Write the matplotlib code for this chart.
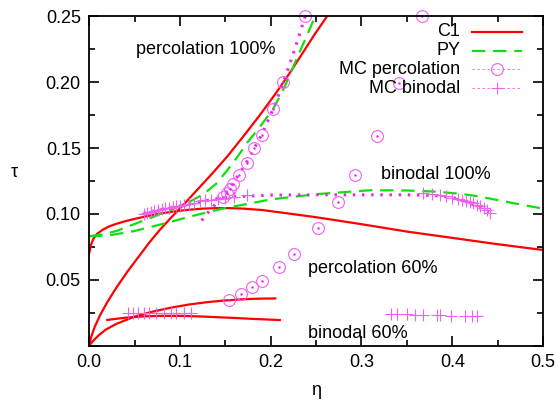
import matplotlib
matplotlib.use("Agg")
import matplotlib.pyplot as plt
from matplotlib.ticker import MultipleLocator, FormatStrFormatter
from matplotlib.lines import Line2D

plt.rcParams['font.family'] = ['Liberation Sans', 'DejaVu Sans']

RED = '#ff0000'
GREEN = '#11dd11'
MAG = '#f020f0'
MAG_LIGHT = '#f060f0'

# C1 closure: binodal at 100%
c1_bin100_eta = [0.0, 0.002, 0.005, 0.009, 0.015, 0.022, 0.03, 0.04, 0.05, 0.065, 0.08, 0.095,
                 0.11, 0.125, 0.14, 0.155, 0.17, 0.19, 0.21, 0.25, 0.3, 0.35, 0.4, 0.45, 0.5]
c1_bin100_tau = [0.070, 0.0765, 0.0815, 0.0850, 0.0880, 0.0905, 0.0925, 0.0945, 0.0962, 0.0985, 0.1005, 0.1020,
                 0.1032, 0.1040, 0.1044, 0.1044, 0.1040, 0.1030, 0.1012, 0.0975, 0.0922, 0.0866, 0.0818, 0.0770, 0.0726]

# C1 closure: percolation at 100%
c1_perc100_eta = [0.0, 0.002, 0.006, 0.012, 0.02, 0.03, 0.042, 0.054, 0.066, 0.078, 0.09, 0.104,
                  0.12, 0.136, 0.152, 0.17, 0.188, 0.205, 0.22, 0.235, 0.249, 0.262]
c1_perc100_tau = [0.0, 0.006, 0.014, 0.023, 0.033, 0.044, 0.056, 0.067, 0.078, 0.088, 0.097, 0.107,
                  0.119, 0.131, 0.1435, 0.159, 0.175, 0.191, 0.206, 0.222, 0.237, 0.25]

# C1 closure: percolation at 60%
c1_perc60_eta = [0.0, 0.005, 0.01, 0.018, 0.03, 0.05, 0.07, 0.09, 0.11, 0.13, 0.15, 0.17, 0.19, 0.205]
c1_perc60_tau = [0.0, 0.004, 0.0075, 0.012, 0.0165, 0.022, 0.0258, 0.0288, 0.0312, 0.033, 0.0343, 0.0352,
                 0.0357, 0.0358]

# C1 closure: binodal at 60%
c1_bin60_eta = [0.02, 0.04, 0.06, 0.08, 0.1, 0.12, 0.14, 0.16, 0.18, 0.2, 0.21]
c1_bin60_tau = [0.0195, 0.0212, 0.0222, 0.0226, 0.0226, 0.0222, 0.0216, 0.0210, 0.0203, 0.0197, 0.0194]

# PY closure: binodal
py_bin_eta = [0.0, 0.02, 0.05, 0.07, 0.09, 0.11, 0.13, 0.15, 0.17, 0.2, 0.25, 0.31, 0.35, 0.38,
              0.41, 0.43, 0.45, 0.47, 0.5]
py_bin_tau = [0.083, 0.0835, 0.087, 0.0905, 0.094, 0.0978, 0.1012, 0.1045, 0.107, 0.111, 0.115, 0.118,
              0.1178, 0.117, 0.1152, 0.1132, 0.1105, 0.1078, 0.104]

# PY closure: percolation
py_perc_eta = [0.0, 0.015, 0.03, 0.045, 0.06, 0.075, 0.09, 0.11, 0.126, 0.14, 0.152, 0.163, 0.174,
               0.188, 0.203, 0.215, 0.225, 0.237, 0.249]
py_perc_tau = [0.083, 0.0845, 0.087, 0.091, 0.095, 0.099, 0.103, 0.109, 0.115, 0.123, 0.133, 0.143, 0.154,
               0.166, 0.18, 0.196, 0.212, 0.231, 0.25]

# MC percolation points
mc_perc100_eta = [0.148, 0.152, 0.155, 0.159, 0.165, 0.174, 0.182, 0.190, 0.203, 0.214, 0.238]
mc_perc100_tau = [0.113, 0.116, 0.119, 0.123, 0.1296, 0.139, 0.150, 0.160, 0.180, 0.2005, 0.25]
mc_perc60_eta = [0.1546, 0.167, 0.1795, 0.1905, 0.209, 0.2258, 0.2522, 0.274, 0.293, 0.3168, 0.3414, 0.367]
mc_perc60_tau = [0.0346, 0.039, 0.0442, 0.0493, 0.0594, 0.0695, 0.0896, 0.109, 0.1296, 0.1594, 0.1997, 0.25]

# MC binodal points
mc_bin100_eta = [0.060, 0.064, 0.068, 0.072, 0.076, 0.080, 0.084, 0.088, 0.092, 0.096, 0.100, 0.105,
                 0.110, 0.116, 0.122, 0.128, 0.134, 0.142, 0.150, 0.160, 0.174,
                 0.368, 0.378, 0.386, 0.393, 0.400, 0.406, 0.411, 0.415, 0.419, 0.423, 0.427,
                 0.431, 0.435, 0.438, 0.441]
mc_bin100_tau = [0.1000, 0.1008, 0.1015, 0.1022, 0.1030, 0.1036, 0.1042, 0.1048, 0.1053, 0.1058, 0.1063, 0.1068,
                 0.1078, 0.1085, 0.1095, 0.1102, 0.1108, 0.1115, 0.1120, 0.1128, 0.1140,
                 0.1157, 0.1150, 0.1142, 0.1133, 0.1124, 0.1115, 0.1107, 0.1098, 0.1090, 0.1080, 0.1070,
                 0.1058, 0.1046, 0.1030, 0.1010]
mc_bin60_eta = [0.043, 0.048, 0.054, 0.060, 0.066, 0.074, 0.082, 0.090, 0.096, 0.104, 0.112,
                0.333, 0.339, 0.350, 0.359, 0.368, 0.383, 0.387, 0.399, 0.414, 0.4215, 0.427]
mc_bin60_tau = [0.0245, 0.0245, 0.0244, 0.0246, 0.0245, 0.0244, 0.0245, 0.0244, 0.0245, 0.0244, 0.0245,
                0.0240, 0.0238, 0.0238, 0.0236, 0.0236, 0.0232, 0.0230, 0.0228, 0.0226, 0.0222, 0.0222]

# fitted MC curves (thick dotted)
fit_perc_eta = [0.124, 0.132, 0.14, 0.148, 0.155, 0.165, 0.174, 0.182, 0.19, 0.203, 0.214, 0.225, 0.238]
fit_perc_tau = [0.095, 0.102, 0.108, 0.114, 0.12, 0.13, 0.14, 0.15, 0.16, 0.18, 0.2, 0.222, 0.25]
fit_bin_eta = [0.06, 0.08, 0.1, 0.12, 0.14, 0.16, 0.2, 0.25, 0.3, 0.35, 0.38, 0.4, 0.42, 0.44]
fit_bin_tau = [0.1005, 0.1035, 0.106, 0.109, 0.1115, 0.113, 0.1143, 0.1145, 0.1145, 0.1145, 0.114,
               0.1125, 0.1085, 0.101]

fig = plt.figure(figsize=(5.57, 4.0), dpi=100)
ax = fig.add_axes([0.160, 0.136, 0.815, 0.823])

lw = 1.6
ax.plot(c1_bin100_eta, c1_bin100_tau, color=RED, lw=lw)
ax.plot(c1_perc100_eta, c1_perc100_tau, color=RED, lw=lw)
ax.plot(c1_perc60_eta, c1_perc60_tau, color=RED, lw=lw)
ax.plot(c1_bin60_eta, c1_bin60_tau, color=RED, lw=lw)

ax.plot(py_bin_eta, py_bin_tau, color=GREEN, lw=lw, dashes=(6, 3.5))
ax.plot(py_perc_eta, py_perc_tau, color=GREEN, lw=lw, dashes=(6, 3.5))

ax.plot(fit_perc_eta, fit_perc_tau, color=MAG, lw=2.2, dashes=(0.8, 2.2))
ax.plot(fit_bin_eta, fit_bin_tau, color=MAG, lw=2.2, dashes=(0.8, 2.2))

for e, t in [(mc_perc100_eta, mc_perc100_tau), (mc_perc60_eta, mc_perc60_tau)]:
    ax.plot(e, t, ls='none', marker='o', ms=8.5, mfc='none', mec=MAG_LIGHT, mew=0.8, clip_on=False)
    ax.plot(e, t, ls='none', marker='.', ms=1.5, color=MAG, clip_on=False)

for e, t in [(mc_bin100_eta, mc_bin100_tau), (mc_bin60_eta, mc_bin60_tau)]:
    ax.plot(e, t, ls='none', marker='+', ms=8, mec=MAG_LIGHT, mew=0.8)

ax.set_xlim(0, 0.5)
ax.set_ylim(0, 0.25)
ax.xaxis.set_major_locator(MultipleLocator(0.1))
ax.xaxis.set_minor_locator(MultipleLocator(0.05))
ax.yaxis.set_major_locator(MultipleLocator(0.05))
ax.yaxis.set_minor_locator(MultipleLocator(0.025))
ax.xaxis.set_major_formatter(FormatStrFormatter('%.1f'))
ax.yaxis.set_major_formatter(plt.FuncFormatter(lambda v, p: '' if abs(v) < 1e-9 else '%.2f' % v))
ax.tick_params(which='both', direction='in', top=True, right=True, labelsize=13, width=1.2)
ax.tick_params(which='major', length=7, pad=6)
ax.tick_params(which='minor', length=4)
for s in ax.spines.values():
    s.set_linewidth(1.3)

ax.set_xlabel('η', fontsize=13)
ax.set_ylabel('τ', fontsize=13, rotation=0)
ax.xaxis.set_label_coords(0.5, -0.11)
ax.yaxis.set_label_coords(-0.165, 0.5)

ax.text(0.052, 0.2245, 'percolation 100%', fontsize=13, va='center')
ax.text(0.321, 0.1296, 'binodal 100%', fontsize=13, va='center')
ax.text(0.2415, 0.0587, 'percolation 60%', fontsize=13, va='center')
ax.text(0.2415, 0.0093, 'binodal 60%', fontsize=13, va='center')

# legend, text right-aligned with the sample on the right
leg_rows = [
    ('C1', dict(color=RED, lw=lw)),
    ('PY', dict(color=GREEN, lw=lw, dashes=(6, 3.5))),
    ('MC percolation', dict(color=MAG_LIGHT, lw=0.6, dashes=(3, 3))),
    ('MC binodal', dict(color=MAG_LIGHT, lw=0.6, dashes=(3, 3))),
]
row_y = [0.954, 0.896, 0.840, 0.782]
for (label, style), y in zip(leg_rows, row_y):
    ax.text(0.817, y, label, transform=ax.transAxes, ha='right', va='center', fontsize=13)
    ax.add_line(Line2D([0.8436, 0.9537], [y, y], transform=ax.transAxes, **style))
ax.add_line(Line2D([0.8987], [row_y[2]], transform=ax.transAxes, ls='none', marker='o', ms=8.5,
                   mfc='none', mec=MAG_LIGHT, mew=0.8))
ax.add_line(Line2D([0.8987], [row_y[3]], transform=ax.transAxes, ls='none', marker='+', ms=8,
                   mec=MAG_LIGHT, mew=0.8))

fig.savefig('out.png', dpi=100)
